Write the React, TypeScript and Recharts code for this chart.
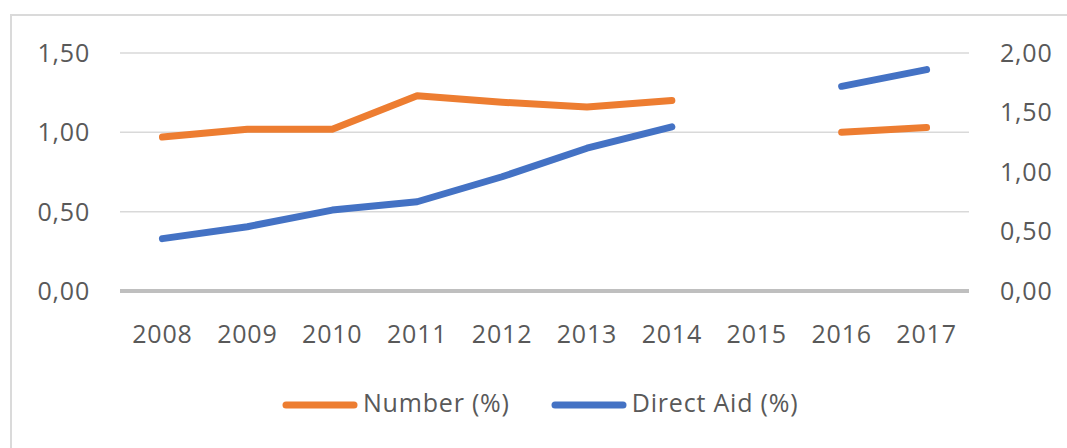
import React from "react";
import { LineChart, Line, XAxis, YAxis, CartesianGrid, Legend } from "recharts";

// values; 2015 has no data
const years = ["2008", "2009", "2010", "2011", "2012", "2013", "2014", "2015", "2016", "2017"];
const numberPct = [0.97, 1.02, 1.02, 1.23, 1.19, 1.16, 1.2, null, 1.0, 1.03];
const directAidPct = [0.44, 0.54, 0.68, 0.75, 0.96, 1.2, 1.38, null, 1.72, 1.86];
const leftTicks = [0, 0.5, 1, 1.5];
const rightTicks = [0, 0.5, 1, 1.5, 2];
const seriesNames = ["Number (%)", "Direct Aid (%)"];

const data = years.map((year, i) => ({
  year,
  number: numberPct[i],
  directAid: directAidPct[i],
}));

const FONT = "'Open Sans', 'Noto Sans', sans-serif";
const TEXT = "#595959";
const tickStyle = { fontFamily: FONT, fontSize: 25, fill: TEXT, letterSpacing: 0.8 };

const fmt = (v: number) => v.toFixed(2).replace(".", ",");

function LegendContent({ payload }: any) {
  // keep the series order of the reference (recharts sorts by name otherwise)
  const items = [...(payload || [])].sort(
    (a: any, b: any) => seriesNames.indexOf(a.value) - seriesNames.indexOf(b.value)
  );
  return (
    <div style={{ display: "flex", paddingLeft: 282, height: 28, lineHeight: "28px" }}>
      {items.map((p: any, i: number) => (
        <div key={i} style={{ display: "flex", marginRight: 41 }}>
          <svg width={76} height={28} style={{ marginRight: 5 }}>
            <line x1={4} y1={17} x2={72} y2={17} stroke={p.color} strokeWidth={7} strokeLinecap="round" />
          </svg>
          <span style={{ fontFamily: FONT, fontSize: 25, color: TEXT, letterSpacing: 0.8 }}>{p.value}</span>
        </div>
      ))}
    </div>
  );
}

export default function App() {
  return (
    <div
      style={{
        position: "absolute",
        left: 0,
        top: 0,
        width: 1067,
        height: 448,
        overflow: "hidden",
        background: "#fff",
      }}
    >
      <div
        style={{
          position: "absolute",
          left: 10,
          top: 14,
          width: 1080,
          height: 460,
          border: "2px solid #dadada",
        }}
      />
      <div style={{ position: "absolute", left: 0, top: 0 }}>
        <LineChart width={1067} height={448} data={data} margin={{ top: 53, right: 0, bottom: 97, left: 0 }}>
          <CartesianGrid yAxisId="left" vertical={false} stroke="#d9d9d9" strokeWidth={1.5} />
          <XAxis
            dataKey="year"
            scale="band"
            height={60}
            tickLine={false}
            tickSize={0}
            tickMargin={34}
            axisLine={{ stroke: "#bfbfbf", strokeWidth: 4 }}
            tick={tickStyle}
            interval={0}
          />
          <YAxis
            yAxisId="left"
            width={120}
            domain={[0, 1.5]}
            ticks={leftTicks}
            tickFormatter={fmt}
            axisLine={false}
            tickLine={false}
            tickSize={0}
            tickMargin={30}
            tick={tickStyle}
          />
          <YAxis
            yAxisId="right"
            orientation="right"
            width={98}
            domain={[0, 2]}
            ticks={rightTicks}
            tickFormatter={fmt}
            axisLine={false}
            tickLine={false}
            tickSize={0}
            tickMargin={31}
            tick={{ ...tickStyle, textAnchor: "start" }}
          />
          <Legend
            layout="horizontal"
            verticalAlign="middle"
            align="center"
            wrapperStyle={{ top: 388, left: 0, width: 1067 }}
            content={<LegendContent />}
          />
          <Line
            yAxisId="left"
            type="linear"
            dataKey="number"
            name={seriesNames[0]}
            stroke="#ED7D31"
            strokeWidth={7}
            strokeLinecap="round"
            strokeLinejoin="round"
            dot={false}
            activeDot={false}
            isAnimationActive={false}
          />
          <Line
            yAxisId="right"
            type="linear"
            dataKey="directAid"
            name={seriesNames[1]}
            stroke="#4472C4"
            strokeWidth={7}
            strokeLinecap="round"
            strokeLinejoin="round"
            dot={false}
            activeDot={false}
            isAnimationActive={false}
          />
        </LineChart>
      </div>
    </div>
  );
}
